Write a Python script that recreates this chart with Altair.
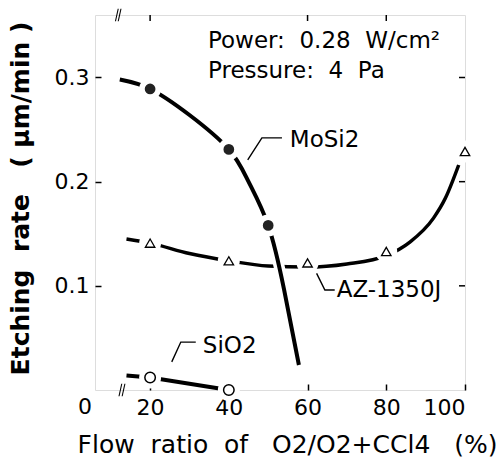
import altair as alt
import pandas as pd

FONT = "DejaVu Sans"
NB = "\u00a0"

# ---- data ----
mosi2_x = [20, 40, 50]
mosi2_y = [0.289, 0.231, 0.158]
mosi2_curve_x = [12.3, 20, 30, 40, 45, 50, 54, 57.8]
mosi2_curve_y = [0.298, 0.289, 0.264, 0.231, 0.200, 0.158, 0.097, 0.024]

az_x = [20, 40, 60, 80, 100]
az_y = [0.141, 0.124, 0.122, 0.133, 0.229]
az_curve_x = [14, 20, 30, 40, 50, 60, 70, 80, 86, 92, 95, 98.4]
az_curve_y = [0.145, 0.141, 0.131, 0.124, 0.119, 0.118, 0.121, 0.129, 0.142, 0.165, 0.184, 0.216]

sio2_x = [20, 40]
sio2_y = [0.012, 0.0]
sio2_curve_x = [14, 20, 40]
sio2_curve_y = [0.014, 0.012, 0.0]

x_ticks = [20, 40, 60, 80, 100]
y_ticks = [0.1, 0.2, 0.3]
top_ticks = [20, 60, 80]

labels = ["Power:" + NB + NB + "0.28" + NB + NB + "W/cm²", "Pressure:" + NB + NB + "4" + NB + NB + "Pa",
          "MoSi2", "AZ-1350J", "SiO2"]
label_x = [34.7, 34.7, 55.5, 67.4, 33.4]
label_y = [0.328, 0.300, 0.233, 0.089, 0.0355]

leader_id = ["m", "m", "m", "a", "a", "a", "s", "s", "s"]
leader_x = [53.5, 48.4, 44.8, 66.9, 64.4, 62.3, 31.6, 27.8, 25.5]
leader_y = [0.242, 0.242, 0.221, 0.096, 0.096, 0.112, 0.046, 0.046, 0.027]

x_title = "Flow" + NB * 2 + "ratio" + NB * 2 + "of" + NB * 3 + "O2/O2+CCl4" + NB * 3 + "(%)"
y_title = "Etching" + NB * 2 + "rate" + NB * 3 + "(" + NB + "μm/min" + NB + ")"

XMIN, XMAX = 6, 100
YMIN, YMAX = 0, 0.36

xs = alt.Scale(domain=[XMIN, XMAX], nice=False, zero=False)
ys = alt.Scale(domain=[YMIN, YMAX], nice=False)

def df(x, y, **kw):
    d = pd.DataFrame({"x": x, "y": y})
    for k, v in kw.items():
        d[k] = v
    return d

xenc = alt.X("x:Q", scale=xs, axis=alt.Axis(
    values=x_ticks, title=x_title,
    offset=-6, domain=False,
    tickSize=6, tickWidth=1.5, tickColor="black", labelPadding=7, labelFontSize=22,
    labelFont=FONT, labelColor="black", titleFont=FONT, titleFontSize=25,
    titleFontWeight="normal", titleColor="black", titleX=192, titleY=60,
    titleBaseline="middle", titleAnchor="middle", titleAlign="center", grid=False))
yenc = alt.Y("y:Q", scale=ys, axis=alt.Axis(
    values=y_ticks, format=".1f", title=y_title,
    offset=-6, domain=False,
    tickSize=6, tickWidth=1.5, tickColor="black", labelPadding=6, labelFontSize=22,
    labelFont=FONT, labelColor="black", titleFont=FONT, titleFontSize=25,
    titleFontWeight="bold", titleColor="black", titleAngle=-90, titleX=-81, titleY=183,
    titleBaseline="middle", titleAlign="center", grid=False))

X = alt.X("x:Q", scale=xs)
Y = alt.Y("y:Q", scale=ys)

base_axes = alt.Chart(df(mosi2_curve_x, mosi2_curve_y)).mark_line(opacity=0).encode(x=xenc, y=yenc)

az_line = alt.Chart(df(az_curve_x, az_curve_y)).mark_line(
    color="black", strokeWidth=3.5, interpolate="monotone").encode(x=X, y=Y)
mosi_halo = alt.Chart(df(mosi2_curve_x, mosi2_curve_y)).mark_line(
    color="white", strokeWidth=11, interpolate="natural").encode(x=X, y=Y)
mosi_line = alt.Chart(df(mosi2_curve_x, mosi2_curve_y)).mark_line(
    color="black", strokeWidth=4, interpolate="natural").encode(x=X, y=Y)
sio_line = alt.Chart(df(sio2_curve_x, sio2_curve_y)).mark_line(
    color="black", strokeWidth=4).encode(x=X, y=Y)

all_pts = pd.concat([df(mosi2_x, mosi2_y), df(az_x, az_y), df(sio2_x, sio2_y)])
halo = alt.Chart(all_pts).mark_point(shape="circle", filled=True, color="white",
                                     size=480, opacity=1).encode(x=X, y=Y)
mosi_pts = alt.Chart(df(mosi2_x, mosi2_y)).mark_point(
    shape="circle", filled=True, color="#222222", size=115, opacity=1).encode(x=X, y=Y)
az_pts = alt.Chart(df(az_x, az_y)).mark_point(
    shape="triangle-up", fill="white", stroke="black", strokeWidth=1.3, size=90,
    opacity=1).encode(x=X, y=Y)
sio_pts = alt.Chart(df(sio2_x, sio2_y)).mark_point(
    shape="circle", fill="white", stroke="black", strokeWidth=1.5, size=110,
    opacity=1).encode(x=X, y=Y)

texts = alt.Chart(pd.DataFrame({"x": label_x, "y": label_y, "t": labels})).mark_text(
    align="left", baseline="alphabetic", font=FONT, fontSize=23, color="black"
).encode(x=X, y=Y, text="t:N")

leaders = alt.Chart(pd.DataFrame({"x": leader_x, "y": leader_y, "g": leader_id,
                                  "o": list(range(len(leader_x)))})).mark_line(
    color="black", strokeWidth=1.4).encode(x=X, y=Y, detail="g:N", order="o:Q")

zero_lbl = alt.Chart(pd.DataFrame({"x": [XMIN], "y": [YMIN], "t": ["0"]})).mark_text(
    align="center", baseline="top", font=FONT, fontSize=22, color="black", dx=-10, dy=7
).encode(x=X, y=Y, text="t:N")

# frame ticks on the top and right
tk_y = 6 / 1041.7
tk_x = 6 / 3.94
top_t = alt.Chart(pd.DataFrame({"x": top_ticks, "y": [YMAX] * 3, "y2": [YMAX - tk_y] * 3})).mark_rule(
    color="black", strokeWidth=1.5).encode(x=X, y=Y, y2="y2:Q")
right_t = alt.Chart(pd.DataFrame({"y": y_ticks, "x": [XMAX] * 3, "x2": [XMAX - tk_x] * 3})).mark_rule(
    color="black", strokeWidth=1.5).encode(x=X, x2="x2:Q", y=Y)

# axis break marks
brk = pd.DataFrame({
    "x": [12.1, 12.9, 11.2, 11.9],
    "x2": [12.8, 13.6, 11.9, 12.6],
    "y": [-0.006, -0.006, YMAX - 0.006, YMAX - 0.006],
    "y2": [0.006, 0.006, YMAX + 0.006, YMAX + 0.006],
})
breaks = alt.Chart(brk).mark_rule(color="black", strokeWidth=1.1).encode(
    x=X, x2="x2:Q", y=Y, y2="y2:Q")

chart = alt.layer(
    base_axes, az_line, mosi_halo, mosi_line, sio_line, halo, mosi_pts, az_pts, sio_pts,
    texts, leaders, zero_lbl, top_t, right_t, breaks
).properties(
    width=370, height=375, autosize=alt.AutoSizeParams(type="none"),
    padding={"left": 95, "top": 15, "right": 38, "bottom": 68}
).configure_view(stroke="black", strokeWidth=1.5).configure(background="white")

chart.save("out.html", embed_options={"renderer": "svg", "actions": False})
